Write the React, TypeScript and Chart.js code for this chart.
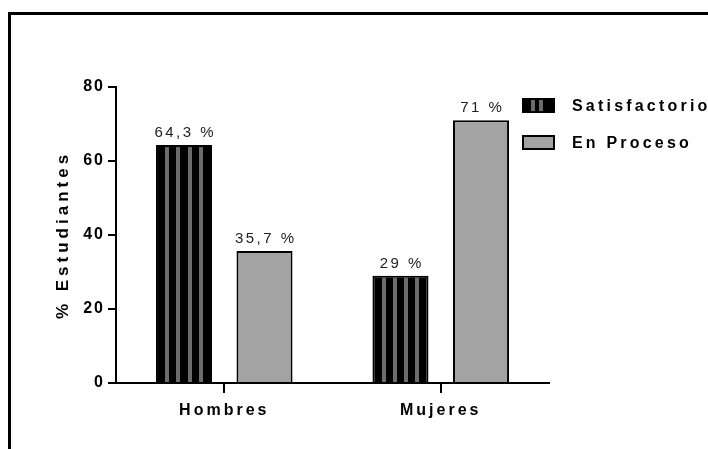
import React, { useEffect, useRef } from 'react';
import { Chart, registerables } from 'chart.js';

Chart.register(...registerables);

const categories = ['Hombres', 'Mujeres'];
const seriesNames = ['Satisfactorio', 'En Proceso'];
const satisfactorio = [64.3, 29];
const enProceso = [35.7, 71];
const yTicks = [0, 20, 40, 60, 80];
const yTitle = '% Estudiantes';

const FONT = "'Liberation Sans', Arial, Helvetica, sans-serif";
const BLACK = '#000000';
const GRAY = '#a3a3a3';
const STRIPE = '#6c6c6c';
const LABEL = '#222222';

function fmt(v: number): string {
  return String(v).replace('.', ',') + ' %';
}

function spacedText(ctx: CanvasRenderingContext2D, text: string, x: number, y: number, ls: number, align: 'left' | 'center') {
  ctx.save();
  (ctx as any).letterSpacing = ls + 'px';
  ctx.textAlign = 'left';
  const w = ctx.measureText(text).width;
  const left = align === 'center' ? x - (w - ls) / 2 : x;
  ctx.fillText(text, left, y);
  ctx.restore();
}

const decorPlugin = {
  id: 'decor',
  beforeDraw(chart: any) {
    (chart.ctx as any).letterSpacing = '3px';
  },
  afterLayout(chart: any) {
    const y = chart.scales.y;
    if (y && !y._lsPatched) {
      const origTitle = y.drawTitle.bind(y);
      y.drawTitle = (...args: any[]) => {
        const c = chart.ctx as any;
        const prev = c.letterSpacing;
        c.letterSpacing = '4px';
        origTitle(...args);
        c.letterSpacing = prev;
      };
      const origLabels = y.drawLabels.bind(y);
      y.drawLabels = (...args: any[]) => {
        const c = chart.ctx as any;
        const prev = c.letterSpacing;
        c.letterSpacing = '2px';
        origLabels(...args);
        c.letterSpacing = prev;
      };
      y._lsPatched = true;
    }
  },
  afterDatasetsDraw(chart: any) {
    const ctx: CanvasRenderingContext2D = chart.ctx;
    const meta0 = chart.getDatasetMeta(0);
    ctx.save();
    ctx.fillStyle = STRIPE;
    meta0.data.forEach((bar: any) => {
      const p = bar.getProps(['x', 'y', 'base', 'width'], true);
      const left = p.x - p.width / 2;
      for (let k = 1; k <= 4; k++) {
        const cx = left + (p.width * k) / 5;
        ctx.fillRect(Math.round(cx - 2), p.y + 2, 4, p.base - p.y - 2);
      }
    });
    ctx.restore();
    ctx.save();
    ctx.fillStyle = LABEL;
    ctx.font = `15px ${FONT}`;
    ctx.textBaseline = 'alphabetic';
    chart.data.datasets.forEach((ds: any, di: number) => {
      const meta = chart.getDatasetMeta(di);
      meta.data.forEach((bar: any, i: number) => {
        const p = bar.getProps(['x', 'y'], true);
        spacedText(ctx, fmt(ds.data[i]), p.x, p.y - 8, 2.5, 'center');
      });
    });
    ctx.restore();
  },
  afterDraw(chart: any) {
    const ctx: CanvasRenderingContext2D = chart.ctx;
    ctx.save();
    (ctx as any).letterSpacing = '0px';
    ctx.fillStyle = BLACK;
    ctx.fillRect(8, 12, 700, 3);
    ctx.fillRect(8, 12, 3, 437);
    const bx = 522;
    const rows = [98, 135];
    const bw = 33;
    const bh = 15;
    chart.data.datasets.forEach((ds: any, di: number) => {
      const by = rows[di];
      if (di === 0) {
        ctx.fillStyle = BLACK;
        ctx.fillRect(bx, by, bw, bh);
        ctx.fillStyle = STRIPE;
        ctx.fillRect(bx + 9, by + 2, 4, bh - 4);
        ctx.fillRect(bx + 17, by + 2, 4, bh - 4);
      } else {
        ctx.fillStyle = BLACK;
        ctx.fillRect(bx, by, bw, bh);
        ctx.fillStyle = GRAY;
        ctx.fillRect(bx + 2, by + 2, bw - 4, bh - 4);
      }
      ctx.fillStyle = BLACK;
      ctx.font = `bold 16px ${FONT}`;
      ctx.textBaseline = 'alphabetic';
      spacedText(ctx, ds.label, 572, by + 13, 3.2, 'left');
    });
    ctx.restore();
  },
};

export default function App() {
  const ref = useRef<HTMLCanvasElement | null>(null);

  useEffect(() => {
    if (!ref.current) return;
    const chart = new Chart(ref.current, {
      type: 'bar',
      data: {
        labels: categories,
        datasets: [
          {
            label: seriesNames[0],
            data: satisfactorio,
            backgroundColor: BLACK,
            borderColor: BLACK,
            borderWidth: 2,
            categoryPercentage: 0.744,
            barPercentage: 0.696,
          },
          {
            label: seriesNames[1],
            data: enProceso,
            backgroundColor: GRAY,
            borderColor: BLACK,
            borderWidth: 2,
            categoryPercentage: 0.744,
            barPercentage: 0.696,
          },
        ],
      },
      options: {
        responsive: false,
        animation: false,
        devicePixelRatio: 1,
        layout: { padding: { top: 87, right: 159, bottom: 0, left: 0 } },
        plugins: {
          legend: { display: false },
          tooltip: { enabled: false },
          title: { display: false },
        },
        scales: {
          x: {
            type: 'category',
            grid: {
              display: true,
              offset: false,
              drawOnChartArea: false,
              drawTicks: true,
              tickLength: 10,
              color: BLACK,
              lineWidth: 2,
            },
            border: { display: true, color: BLACK, width: 2 },
            ticks: {
              color: BLACK,
              padding: 8,
              font: { family: FONT, size: 16, weight: 'bold' },
            },
            afterFit: (scale: any) => {
              scale.height = 66;
            },
          },
          y: {
            type: 'linear',
            min: 0,
            max: 80,
            afterBuildTicks: (scale: any) => {
              scale.ticks = yTicks.map((v) => ({ value: v }));
            },
            grid: {
              display: true,
              drawOnChartArea: false,
              drawTicks: true,
              tickLength: 8,
              color: BLACK,
              lineWidth: 2,
            },
            border: { display: true, color: BLACK, width: 2 },
            ticks: {
              color: BLACK,
              padding: 3,
              font: { family: FONT, size: 16, weight: 'bold' },
            },
            title: {
              display: true,
              text: yTitle,
              color: BLACK,
              font: { family: FONT, size: 17, weight: 'bold' },
              padding: { top: 53, bottom: 0 },
            },
            afterFit: (scale: any) => {
              scale.width = 116;
            },
          },
        },
      },
      plugins: [decorPlugin],
    } as any);
    return () => chart.destroy();
  }, []);

  return (
    <div style={{ position: 'absolute', left: 0, top: 0, width: 708, height: 449, background: '#ffffff' }}>
      <canvas ref={ref} width={708} height={449} style={{ display: 'block' }} />
    </div>
  );
}
